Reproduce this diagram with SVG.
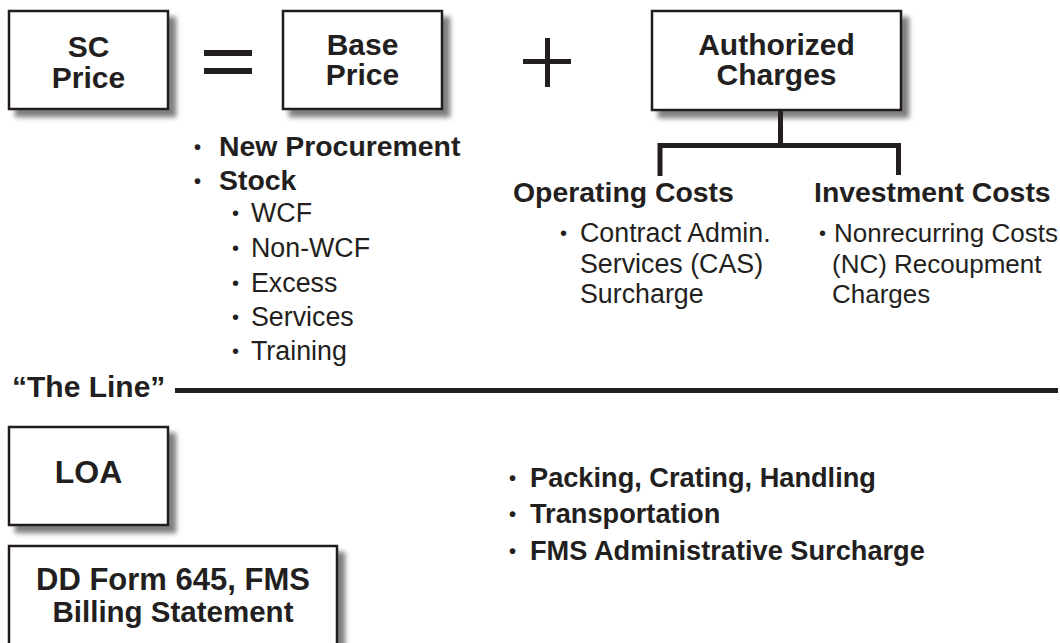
<svg xmlns="http://www.w3.org/2000/svg" width="1060" height="643" viewBox="0 0 1060 643">
<style>
text{font-family:"Liberation Sans",Arial,Helvetica,sans-serif;fill:#231f20}
.bt{font-weight:bold;font-size:30px;text-anchor:middle}
.bl{font-weight:bold;font-size:28.4px}
.rg{font-size:26.8px}
.rg2{font-size:26px}
.bu{font-size:20px}
.box{fill:#fff;stroke:#231f20;stroke-width:2.5}
.con{stroke:#231f20;stroke-width:5;fill:none}
</style>
<defs>
<filter id="sh" x="-10%" y="-10%" width="130%" height="140%">
<feDropShadow dx="7" dy="7" stdDeviation="2.5" flood-color="#555" flood-opacity="0.75"/>
</filter>
</defs>

<g id="sc-price">
<rect class="box" x="9" y="11" width="159" height="98" filter="url(#sh)"/>
<text class="bt" x="88.5" y="57">SC</text>
<text class="bt" x="88.5" y="88">Price</text>
</g>

<g id="equals">
<rect x="204" y="50" width="48" height="6" fill="#231f20"/>
<rect x="204" y="68" width="48" height="6" fill="#231f20"/>
</g>

<g id="base-price">
<rect class="box" x="283" y="11" width="159" height="98" filter="url(#sh)"/>
<text class="bt" x="362.5" y="55">Base</text>
<text class="bt" x="362.5" y="85">Price</text>
</g>

<g id="plus">
<rect x="523" y="59" width="48" height="5" fill="#231f20"/>
<rect x="545" y="38" width="5" height="49" fill="#231f20"/>
</g>

<g id="authorized-charges">
<rect class="box" x="652" y="11" width="249" height="99" filter="url(#sh)"/>
<text class="bt" x="776.5" y="55">Authorized</text>
<text class="bt" x="776.5" y="85">Charges</text>
</g>

<g id="connectors">
<line class="con" x1="780.5" y1="110" x2="780.5" y2="146"/>
<polyline class="con" points="660,176 660,145.5 898.5,145.5 898.5,175"/>
<line class="con" x1="175" y1="390.5" x2="1058" y2="390.5"/>
</g>

<g id="base-price-list">
<text class="bl" y="156"><tspan class="bu" x="194" dy="-2">•</tspan><tspan x="219" dy="2">New Procurement</tspan></text>
<text class="bl" y="190"><tspan class="bu" x="194" dy="-2">•</tspan><tspan x="219" dy="2">Stock</tspan></text>
<text class="rg" y="222"><tspan class="bu" x="232" dy="-2">•</tspan><tspan x="251" dy="2">WCF</tspan></text>
<text class="rg" y="257"><tspan class="bu" x="232" dy="-2">•</tspan><tspan x="251" dy="2">Non-WCF</tspan></text>
<text class="rg" y="292"><tspan class="bu" x="232" dy="-2">•</tspan><tspan x="251" dy="2">Excess</tspan></text>
<text class="rg" y="326"><tspan class="bu" x="232" dy="-2">•</tspan><tspan x="251" dy="2">Services</tspan></text>
<text class="rg" y="360"><tspan class="bu" x="232" dy="-2">•</tspan><tspan x="251" dy="2">Training</tspan></text>
</g>

<g id="operating-costs">
<text class="bl" x="513" y="202">Operating Costs</text>
<text class="rg" y="242"><tspan class="bu" x="560" dy="-2">•</tspan><tspan x="580" dy="2">Contract Admin.</tspan></text>
<text class="rg" x="580" y="273">Services (CAS)</text>
<text class="rg" x="580" y="303">Surcharge</text>
</g>

<g id="investment-costs">
<text class="bl" x="814" y="202">Investment Costs</text>
<text class="rg2" y="242"><tspan class="bu" x="819" dy="-2">•</tspan><tspan x="834" dy="2">Nonrecurring Costs</tspan></text>
<text class="rg2" x="832" y="273">(NC) Recoupment</text>
<text class="rg2" x="832" y="303">Charges</text>
</g>

<g id="the-line">
<text style="font-weight:bold;font-size:30px" x="12" y="397">“The Line”</text>
</g>

<g id="loa">
<rect class="box" x="9" y="427" width="159" height="98" filter="url(#sh)"/>
<text class="bt" x="88.5" y="483" style="font-size:32px">LOA</text>
</g>

<g id="dd-form-645">
<rect class="box" x="9" y="546" width="328" height="120" filter="url(#sh)"/>
<text class="bt" x="173" y="590" style="font-size:31px">DD Form 645, FMS</text>
<text class="bt" x="173" y="622" style="font-size:29.5px">Billing Statement</text>
</g>

<g id="below-line-list">
<text class="bl" y="487" style="font-size:27.2px"><tspan class="bu" x="509" dy="-2">•</tspan><tspan x="530" dy="2">Packing, Crating, Handling</tspan></text>
<text class="bl" y="523" style="font-size:27.2px"><tspan class="bu" x="509" dy="-2">•</tspan><tspan x="530" dy="2">Transportation</tspan></text>
<text class="bl" y="560" style="font-size:27.2px"><tspan class="bu" x="509" dy="-2">•</tspan><tspan x="530" dy="2">FMS Administrative Surcharge</tspan></text>
</g>
</svg>
